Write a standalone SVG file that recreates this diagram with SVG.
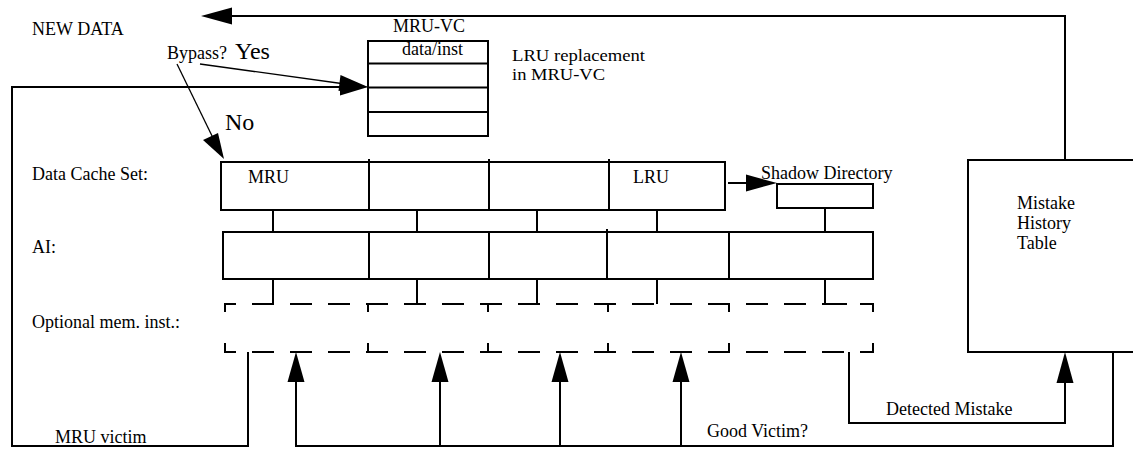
<svg xmlns="http://www.w3.org/2000/svg" width="1133" height="449" viewBox="0 0 1133 449">
<style>
text{font-family:"Liberation Serif","Times New Roman",serif;font-size:18px;fill:#000}
.big{font-size:24px}
.sm{font-size:16px}
.ln{fill:none;stroke:#000;stroke-width:2}
.thin{fill:none;stroke:#000;stroke-width:1.3}
.box{fill:none;stroke:#000;stroke-width:2}
.dash{fill:none;stroke:#000;stroke-width:2;stroke-dasharray:22 16;stroke-dashoffset:11}
.ah{fill:#000;stroke:none}
</style>
<rect width="1133" height="449" fill="#fff"/>
<g id="labels">
<text x="32" y="35">NEW DATA</text>
<text x="167" y="59">Bypass?</text>
<text class="big" x="235" y="59">Yes</text>
<text class="big" x="225" y="130">No</text>
<text x="32" y="180">Data Cache Set:</text>
<text x="32" y="253">AI:</text>
<text x="32" y="328">Optional mem. inst.:</text>
<text x="55" y="443">MRU victim</text>
<text x="707" y="437">Good Victim?</text>
<text x="886" y="415">Detected Mistake</text>
<text class="sm" x="512" y="61" textLength="133" lengthAdjust="spacingAndGlyphs">LRU replacement</text>
<text class="sm" x="512" y="79.5" textLength="93" lengthAdjust="spacingAndGlyphs">in MRU-VC</text>
</g>
<g id="mru-vc">
<text x="393" y="32">MRU-VC</text>
<rect class="box" x="368" y="41" width="120" height="95"/>
<path class="ln" d="M368,63.5H488M368,87.5H488M368,112H488"/>
<text x="402" y="55">data/inst</text>
</g>
<g id="data-cache-set">
<rect class="box" x="221" y="162" width="504" height="48"/>
<path class="ln" d="M369,159V210M489,159V210M609,159V210"/>
<text x="248" y="183">MRU</text>
<text x="633" y="183">LRU</text>
</g>
<g id="shadow-directory">
<rect class="box" x="777" y="184" width="96" height="24"/>
<text x="761" y="179">Shadow Directory</text>
</g>
<g id="ai">
<rect class="box" x="223" y="232" width="650" height="47"/>
<path class="ln" d="M369,232V279M489,232V279M607,229V279M729,232V279"/>
</g>
<g id="optional-mem-inst">
<path class="dash" d="M225,304H873"/>
<path class="dash" d="M225,352H873"/>
<path class="ln" d="M225,303V312M225,343V353M368,303V312M368,343V353M488,303V312M488,343V353M608,303V312M608,343V353M729,303V312M729,343V353M873,303V312M873,343V353"/>
</g>
<g id="mistake-history-table">
<path class="box" d="M1140,160H968V352H1140"/>
<text x="1017" y="209">Mistake</text>
<text x="1017" y="229">History</text>
<text x="1017" y="249">Table</text>
</g>
<g id="connectors">
<path class="ln" d="M1065,160V16H230"/>
<polygon class="ah" points="201,16 232,7.5 232,24.5"/>
<line class="thin" x1="200" y1="64" x2="345" y2="84"/>
<polygon class="ah" points="368,87 340.5,75 338.5,91"/>
<line class="thin" x1="177" y1="64" x2="214" y2="140"/>
<polygon class="ah" points="224,159 203,140 218,133"/>
<path class="ln" d="M248,352V446H12V87H342"/>
<polygon class="ah" points="368,87 340,78.5 340,95.5"/>
<path class="ln" d="M273,210V232M417,210V232M537,210V232M657,210V232M825,208V232"/>
<path class="ln" d="M273,279V304M417,279V304M537,279V304M657,279V304M825,279V304H847"/>
<path class="ln" d="M728,183H748"/>
<polygon class="ah" points="777,183 746,174.5 746,191.5"/>
<path class="ln" d="M296,380V446H1113V352M440,380V446M560,380V446M681,380V446"/>
<polygon class="ah" points="296,352 287.5,382 304.5,382"/>
<polygon class="ah" points="440,352 431.5,382 448.5,382"/>
<polygon class="ah" points="560,352 551.5,382 568.5,382"/>
<polygon class="ah" points="681,352 672.5,382 689.5,382"/>
<path class="ln" d="M849,352V423H1065V381"/>
<polygon class="ah" points="1065,352 1056.5,383 1073.5,383"/>
</g>
</svg>
